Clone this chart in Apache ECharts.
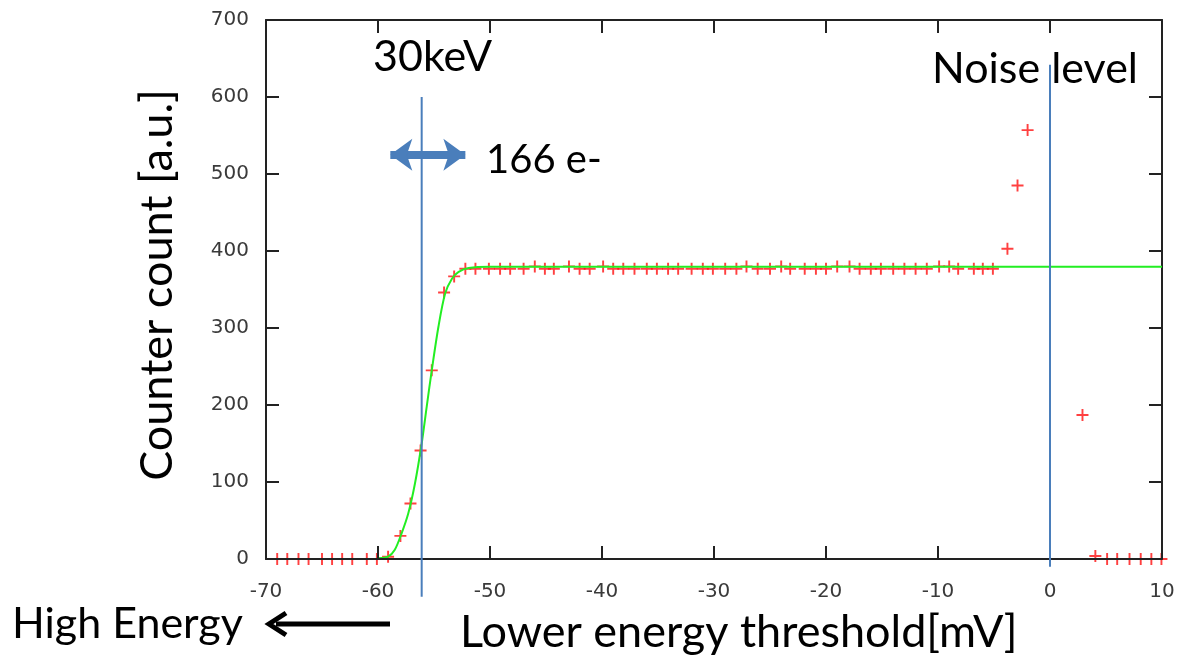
<!DOCTYPE html>
<html><head><meta charset="utf-8">
<script src="https://cdn.jsdelivr.net/npm/echarts@6/dist/echarts.min.js"></script>
<style>html,body{margin:0;padding:0;background:#fff}#c{width:1180px;height:660px}</style>
</head><body><div id="c"></div>
<script>
// Measured counts (red +)
const thresholdMV = [-69.0,-68.1,-67.1,-66.2,-65.0,-64.1,-63.2,-62.3,-61.0,-60.1,-59.1,-58.0,-57.1,-56.2,-55.2,-54.1,-53.2,-52.2,-51.3,-50.1,-49.1,-48.2,-47.0,-46.0,-45.1,-44.3,-42.95,-42.0,-41.1,-39.9,-39.0,-38.1,-37.1,-36.0,-35.1,-34.1,-33.2,-32.0,-31.0,-30.1,-29.0,-28.0,-27.1,-26.1,-25.0,-24.0,-23.2,-21.9,-20.9,-20.0,-19.0,-17.9,-17.0,-16.0,-15.1,-14.0,-13.0,-12.0,-11.0,-9.9,-9.0,-8.2,-6.8,-6.0,-5.1,-3.8,-2.9,-2.0,2.9,4.05,5.1,6.0,7.1,8.1,9.05,9.95];
const counts = [0,0,0,0,0,0,0,0,0,0,3,30,72,141,245,346,367,377,377,377,377,377,377,380,377,377,380,377,377,380,377,377,377,377,377,377,377,377,377,377,377,377,380,377,377,380,377,377,377,377,380,380,377,377,377,377,377,377,377,380,380,377,377,377,377,403,485,557,187,4,0,0,0,0,0,0];
// Fitted curve (green)
const fitX = [-60.0,-59.1,-58.5,-57.9,-57.3,-56.7,-56.1,-55.65,-55.2,-54.6,-54.0,-53.4,-52.8,-51.9,-50.0,10];
const fitY = [1,3,12,33,59,98,150,198,245,302,345,364,373,378,379.6,379.6];
// Reference lines
const line30keV_X = -56.1, line30keV_Y = [600, -49];
const noiseX = 0, noiseY = [642, -10];
// double arrow (166 e-)
const dblArrowX = [-58.9, -52.2], dblArrowY = 525;
const xTicks = {min:-70, max:10, interval:10};
const yTicks = {min:0, max:700, interval:100};

const plus = 'path://M-0.16,-1L0.16,-1L0.16,-0.16L1,-0.16L1,0.16L0.16,0.16L0.16,1L-0.16,1L-0.16,0.16L-1,0.16L-1,-0.16L-0.16,-0.16Z';
const blue = '#4a7ebb';
const axisCol = '#222';
const tickLab = {color:'#3a3a3a', fontFamily:'DejaVu Sans', fontSize:20};
const bigFont = 'Lato';

const chart = echarts.init(document.getElementById('c'));
const commonAxis = {axisLine:{show:true,onZero:false,lineStyle:{color:axisCol,width:2}}, axisTick:{show:true,inside:true,length:13,lineStyle:{color:axisCol,width:2}}, splitLine:{show:false}};
chart.setOption({
  animation:false,
  grid:{left:266, top:20, width:896, height:539},
  xAxis:[
    Object.assign({type:'value', position:'bottom', min:xTicks.min, max:xTicks.max, interval:xTicks.interval, axisLabel:Object.assign({margin:23},tickLab), z:3}, commonAxis),
    Object.assign({type:'value', position:'top', min:xTicks.min, max:xTicks.max, interval:xTicks.interval, axisLabel:{show:false}}, commonAxis)
  ],
  yAxis:[
    Object.assign({type:'value', position:'left', min:yTicks.min, max:yTicks.max, interval:yTicks.interval, axisLabel:Object.assign({margin:17},tickLab)}, commonAxis),
    Object.assign({type:'value', position:'right', min:yTicks.min, max:yTicks.max, interval:yTicks.interval, axisLabel:{show:false}}, commonAxis)
  ],
  series:[
    {type:'line', data:fitX.map((x,i)=>[x,fitY[i]]), showSymbol:false, smooth:0.3, lineStyle:{color:'#22ee22',width:2}, z:2},
    {type:'scatter', data:thresholdMV.map((x,i)=>[x,counts[i]]), symbol:plus, symbolSize:12, itemStyle:{color:'#ff1010'}, z:1},
    {type:'line', data:line30keV_Y.map(y=>[line30keV_X,y]), showSymbol:false, clip:false, lineStyle:{color:blue,width:2}, z:4},
    {type:'line', data:noiseY.map(y=>[noiseX,y]), showSymbol:false, clip:false, lineStyle:{color:blue,width:2}, z:4,
     markLine:{silent:true, symbol:['arrow','arrow'], symbolSize:[24,22], label:{show:false},
       lineStyle:{color:blue,width:8,type:'solid'},
       data:[[{coord:[dblArrowX[0],dblArrowY]},{coord:[dblArrowX[1],dblArrowY]}]]}}
  ],
  graphic:[
    {type:'text', left:373, top:36, style:{text:'30keV', font:'43px '+bigFont, fill:'#000'}},
    {type:'text', left:932, top:48, style:{text:'Noise level', font:'43px '+bigFont, fill:'#000'}},
    {type:'text', left:486, top:140, style:{text:'166 e-', font:'40px '+bigFont, fill:'#000'}},
    {type:'text', x:157, y:285, rotation:Math.PI/2, style:{text:'Counter count [a.u.]', font:'45px '+bigFont, fill:'#000', textAlign:'center', textVerticalAlign:'middle'}},
    {type:'text', left:460, top:610, style:{text:'Lower energy threshold[mV]', font:'45px '+bigFont, fill:'#000'}},
    {type:'text', left:12, top:603, style:{text:'High Energy', font:'43px '+bigFont, fill:'#000'}},
    {type:'line', shape:{x1:390,y1:624,x2:276,y2:624}, style:{stroke:'#000', lineWidth:5}},
    {type:'polyline', shape:{points:[[286,613],[269,624],[286,635]]}, style:{stroke:'#000', lineWidth:5, fill:null, lineJoin:'miter'}}
  ]
});
</script></body></html>
